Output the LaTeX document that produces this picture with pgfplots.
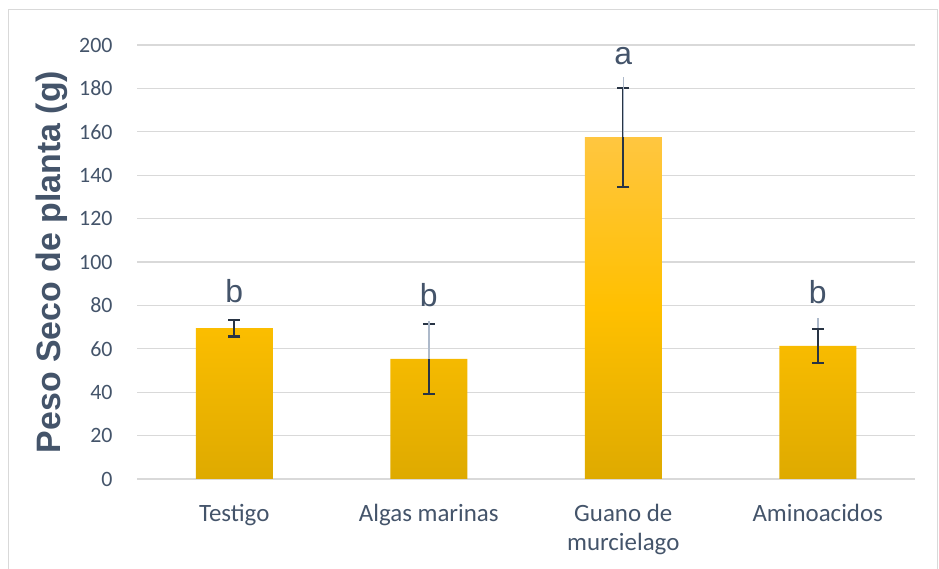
\documentclass[border=0pt]{standalone}
\usepackage{pgfplots}
\pgfplotsset{compat=1.18}
\usepackage{pgfplotstable}
\usepackage{fontspec}
\setmainfont{Carlito}
\newfontfamily\arialf{Liberation Sans}
\definecolor{textc}{RGB}{68,84,106}
\definecolor{gridc}{RGB}{217,217,217}
\definecolor{errc}{RGB}{40,52,68}
\definecolor{greyc}{RGB}{173,185,202}
\definecolor{barTop}{RGB}{255,198,64}
\definecolor{barMid}{RGB}{255,192,0}
\definecolor{barBot}{RGB}{222,170,0}

\pgfplotstableread{
x y e
0 69.5 3.8
1 55.3 16.3
2 157.5 22.8
3 61.4 7.8
}\bars
\pgfplotstableread{
x y e
3 61.4 12.9
}\greyA
\pgfplotstableread{
x y e
1 55.3 17.6
2 157.5 27.6
}\greyB
\pgfplotstableread{
x y lab
0 86.4 b
1 84.8 b
2 194.9 a
3 86.3 b
}\letters

\begin{document}
\begin{tikzpicture}[x=1bp,y=1bp]
\path[use as bounding box] (0,0) rectangle (939,569);
\draw[gridc, line width=1bp] (8,-2) rectangle (937.5,559);
\begin{axis}[
  at={(137bp,90bp)}, anchor=south west,
  scale only axis, width=778bp, height=434bp,
  xmin=-0.5, xmax=3.5, ymin=0, ymax=200,
  ytick distance=20,
  xtick=data,
  xticklabels={Testigo, Algas marinas, {Guano de\\murcielago}, Aminoacidos},
  major tick length=0pt,
  axis line style={draw=none},
  ymajorgrids, grid style={gridc, line width=1.2bp},
  /pgf/number format/assume math mode=true,
  yticklabel style={font=\fontsize{22}{29}\selectfont, text=textc, xshift=-21bp},
  xticklabel style={font=\fontsize{25}{29}\selectfont, text=textc, align=center, yshift=-22bp},
  ylabel={Peso Seco de planta (g)},
  ylabel style={font=\arialf\bfseries\fontsize{34}{38}\selectfont, text=textc,
    at={(axis description cs:0,0.5)}, anchor=center, yshift=85bp},
  clip=false,
]
\addplot[ybar, bar width=77bp, bar shift=0pt, draw=none,
  top color=barTop, bottom color=barBot, middle color=barMid]
  table[x=x, y=y] {\bars};
\addplot[ybar, bar width=77bp, bar shift=0pt, draw=none, fill=none,
  error bars/.cd, y dir=plus, y explicit, error mark=none,
  error bar style={draw=greyc, line width=1.5bp}]
  table[x=x, y=y, y error=e] {\greyA};
\addplot[ybar, bar width=77bp, bar shift=0pt, draw=none, fill=none,
  error bars/.cd, y dir=both, y explicit,
  error bar style={draw=errc, line width=2.2bp},
  error mark options={rotate=90, mark size=6bp, line width=2.2bp, draw=errc}]
  table[x=x, y=y, y error=e] {\bars};
\addplot[ybar, bar width=77bp, bar shift=0pt, draw=none, fill=none,
  error bars/.cd, y dir=plus, y explicit, error mark=none,
  error bar style={draw=greyc, line width=1.5bp}]
  table[x=x, y=y, y error=e] {\greyB};
\addplot[draw=none, mark=none, nodes near coords, point meta=explicit symbolic,
  nodes near coords style={anchor=center, font=\arialf\fontsize{32}{36}\selectfont, text=textc, inner sep=0pt}]
  table[x=x, y=y, meta=lab] {\letters};
\end{axis}
\end{tikzpicture}
\end{document}
